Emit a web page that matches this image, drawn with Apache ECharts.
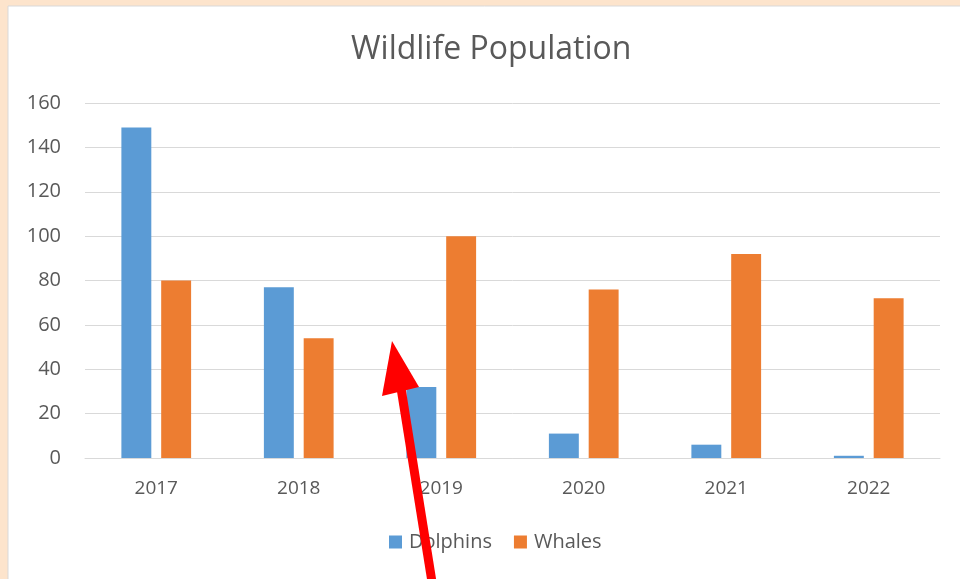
<!DOCTYPE html>
<html>
<head>
<meta charset="utf-8">
<script src="https://cdn.jsdelivr.net/npm/echarts@6/dist/echarts.min.js"></script>
<style>html,body{margin:0;padding:0;background:#fde4cc;}#c{width:960px;height:579px;}</style>
</head>
<body>
<div id="c"></div>
<script>
const categories = ['2017', '2018', '2019', '2020', '2021', '2022'];
const dolphins = [149, 77, 32, 11, 6, 1];
const whales = [80, 54, 100, 76, 92, 72];
const yTicks = { min: 0, max: 160, interval: 20 };

const chart = echarts.init(document.getElementById('c'));
const font = "'Open Sans', sans-serif";
chart.setOption({
  backgroundColor: '#fde4cc',
  animation: false,
  title: {
    text: 'Wildlife Population', left: 346, top: 29,
    textStyle: { fontFamily: font, fontSize: 32, fontWeight: 'normal', color: '#595959' }
  },
  legend: {
    bottom: 22, left: 384, itemWidth: 13, itemHeight: 13, itemGap: 22,
    icon: 'rect',
    textStyle: { fontFamily: font, fontSize: 20, color: '#595959', padding: [0, 0, 0, 2] },
    data: ['Dolphins', 'Whales']
  },
  grid: { left: 85, right: 20, top: 103, bottom: 121, containLabel: false },
  xAxis: {
    type: 'category', data: categories,
    axisLine: { lineStyle: { color: '#d9d9d9' } },
    axisTick: { show: false },
    axisLabel: { fontFamily: font, fontSize: 19, color: '#595959', margin: 21 }
  },
  yAxis: {
    type: 'value', min: yTicks.min, max: yTicks.max, interval: yTicks.interval,
    axisLine: { show: false }, axisTick: { show: false },
    splitLine: { lineStyle: { color: '#d9d9d9', width: 1 } },
    axisLabel: { fontFamily: font, fontSize: 20, color: '#595959', margin: 24 }
  },
  series: [
    { name: 'Dolphins', type: 'bar', data: dolphins, barWidth: '21%', barGap: '33%', itemStyle: { color: '#5b9bd5' } },
    { name: 'Whales', type: 'bar', data: whales, barWidth: '21%', barGap: '33%', itemStyle: { color: '#ed7d31' } }
  ],
  graphic: [
    { type: 'rect', z: -10, shape: { x: 8, y: 6, width: 960, height: 580 },
      style: { fill: '#ffffff', stroke: '#d9d9d9', lineWidth: 1 } },
    { type: 'line', z: 100, shape: { x1: 432, y1: 582, x2: 401, y2: 388 },
      style: { stroke: '#ff0000', lineWidth: 9 } },
    { type: 'polygon', z: 100, shape: { points: [[392, 341], [382, 396], [419, 387]] },
      style: { fill: '#ff0000' } }
  ]
});
</script>
</body>
</html>
